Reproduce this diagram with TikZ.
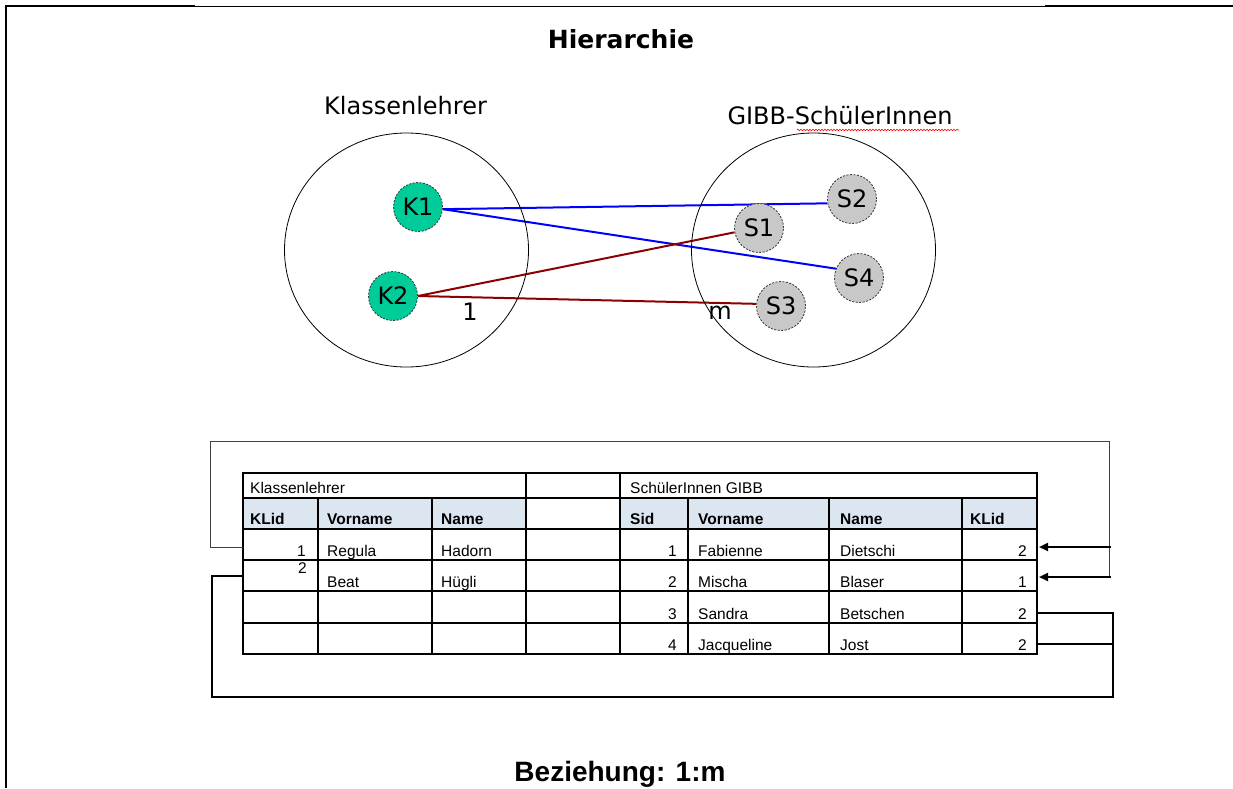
\documentclass[tikz,border=0pt]{standalone}
\usepackage{fontspec}
\setmainfont{Liberation Sans}
\newfontfamily\dejavu{DejaVu Sans}
\usetikzlibrary{arrows.meta,backgrounds,decorations.pathmorphing}
\definecolor{kgreen}{RGB}{0,204,153}
\definecolor{sgray}{RGB}{200,200,200}
\definecolor{hdrblue}{RGB}{220,230,241}
\definecolor{relred}{RGB}{139,0,0}
\definecolor{relblue}{RGB}{0,0,255}

\begin{document}
\begin{tikzpicture}[x=1pt,y=-1pt,
  entity/.style={circle,minimum size=49pt,inner sep=0pt,draw=black!80,line width=0.8pt,
    dash pattern=on 2pt off 1.5pt,font=\dejavu\fontsize{24}{26}\selectfont},
  teacher/.style={entity,fill=kgreen},
  pupil/.style={entity,fill=sgray},
  label/.style={font=\dejavu\fontsize{24}{28}\selectfont,inner sep=0pt},
  cell/.style={font=\fontsize{15.5}{18}\selectfont,inner sep=0pt,anchor=base west},
  num/.style={font=\fontsize{15.5}{18}\selectfont,inner sep=0pt,anchor=base east},
  head/.style={font=\fontsize{15.5}{18}\selectfont\bfseries,inner sep=0pt,anchor=base west},
  fk/.style={line width=2pt,-{Triangle[length=9pt,width=8pt]}}]
\useasboundingbox (0,0) rectangle (1233,788);

% page frame
\draw[line width=2.5pt] (6,788) -- (6,6) -- (195,6);
\draw[line width=1pt] (195,6) -- (1045,6);
\draw[line width=2.5pt] (1045,6) -- (1233,6);

\node[anchor=base,font=\dejavu\bfseries\fontsize{25}{28}\selectfont] (title) at (621,48) {Hierarchie};

% sets
\node[label,anchor=base] (setk) at (405.5,114) {Klassenlehrer};
\node[label,anchor=base] (sets) at (840,124) {GIBB-SchülerInnen};
\draw[red,line width=0.6pt,decorate,decoration={snake,amplitude=0.8pt,segment length=3pt}]
  (797,130) -- (959,130);
\draw[line width=0.8pt] (406.5,250) ellipse [x radius=122pt, y radius=117pt];
\draw[line width=0.8pt] (813.5,250) ellipse [x radius=122pt, y radius=117pt];

\node[teacher] (K1) at (418,207) {K1};
\node[teacher] (K2) at (393,296) {K2};
\node[pupil] (S1) at (759,228) {S1};
\node[pupil] (S2) at (852,199) {S2};
\node[pupil] (S3) at (781,306) {S3};
\node[pupil] (S4) at (859,278) {S4};

\begin{scope}[on background layer]
\draw[relblue,line width=2pt] (K1.-5) -- (S2.190);
\draw[relblue,line width=2pt] (K1.-5) -- (S4.158);
\draw[relred,line width=2pt] (K2.east) -- (S1.190);
\draw[relred,line width=2pt] (K2.east) -- (S3.175);
\end{scope}

\node[label] (one) at (470,312) {1};
\node[label] (many) at (720,313) {m};

% tables
\fill[hdrblue] (243,498) rectangle (526,529);
\fill[hdrblue] (620,498) rectangle (1037,529);
\foreach \y in {473,498,529,560,591,623,654}
  \draw[line width=2pt,line cap=rect] (243,\y) -- (1037,\y);
\foreach \x in {243,526,620,1037}
  \draw[line width=2pt,line cap=rect] (\x,473) -- (\x,654);
\foreach \x in {318,432,688,829,962}
  \draw[line width=2pt] (\x,498) -- (\x,654);

\node[cell] (kt) at (250,493) {Klassenlehrer};
\node[cell] (st) at (630,493) {SchülerInnen GIBB};
\node[head] (kh1) at (250,524) {KLid};
\node[head] (kh2) at (327,524) {Vorname};
\node[head] (kh3) at (441,524) {Name};
\node[head] (sh1) at (630,524) {Sid};
\node[head] (sh2) at (698,524) {Vorname};
\node[head] (sh3) at (840,524) {Name};
\node[head] (sh4) at (970,524) {KLid};

\node[num] (kid1) at (306,556) {1};
\node[cell] (kv1) at (327,556) {Regula};
\node[cell] (kn1) at (441,556) {Hadorn};
\node[num] (kid2) at (307,573) {2};
\node[cell] (kv2) at (327,587) {Beat};
\node[cell] (kn2) at (441,587) {Hügli};

\foreach \b/\s/\v/\n/\k [count=\i] in {556/1/Fabienne/Dietschi/2, 587/2/Mischa/Blaser/1,
    619/3/Sandra/Betschen/2, 650/4/Jacqueline/Jost/2} {
  \node[num] (sid\i) at (677,\b) {\s};
  \node[cell] (sv\i) at (698,\b) {\v};
  \node[cell] (sn\i) at (840,\b) {\n};
  \node[num] (sk\i) at (1027,\b) {\k};
}

% foreign keys
\coordinate (kla) at (243,547);
\coordinate (klb) at (243,576);
\coordinate (ska) at (1039,547);
\coordinate (skb) at (1039,577);
\coordinate (skc) at (1037,613);
\coordinate (skd) at (1037,644);
\draw[line width=1pt,black!75] (kla) -| (210,441) -| (1109,577);
\draw[fk] (1111,547) -- (ska);
\draw[fk] (1111,577) -- (skb);
\draw[line width=1.8pt] (klb) -| (212,697) -| (1113,613) -- (skc);
\draw[line width=2.2pt] (1113,644) -- (skd);
\node[anchor=base,font=\fontsize{28}{32}\selectfont\bfseries] (rel) at (620,781) {Beziehung: 1:m};
\end{tikzpicture}
\end{document}
